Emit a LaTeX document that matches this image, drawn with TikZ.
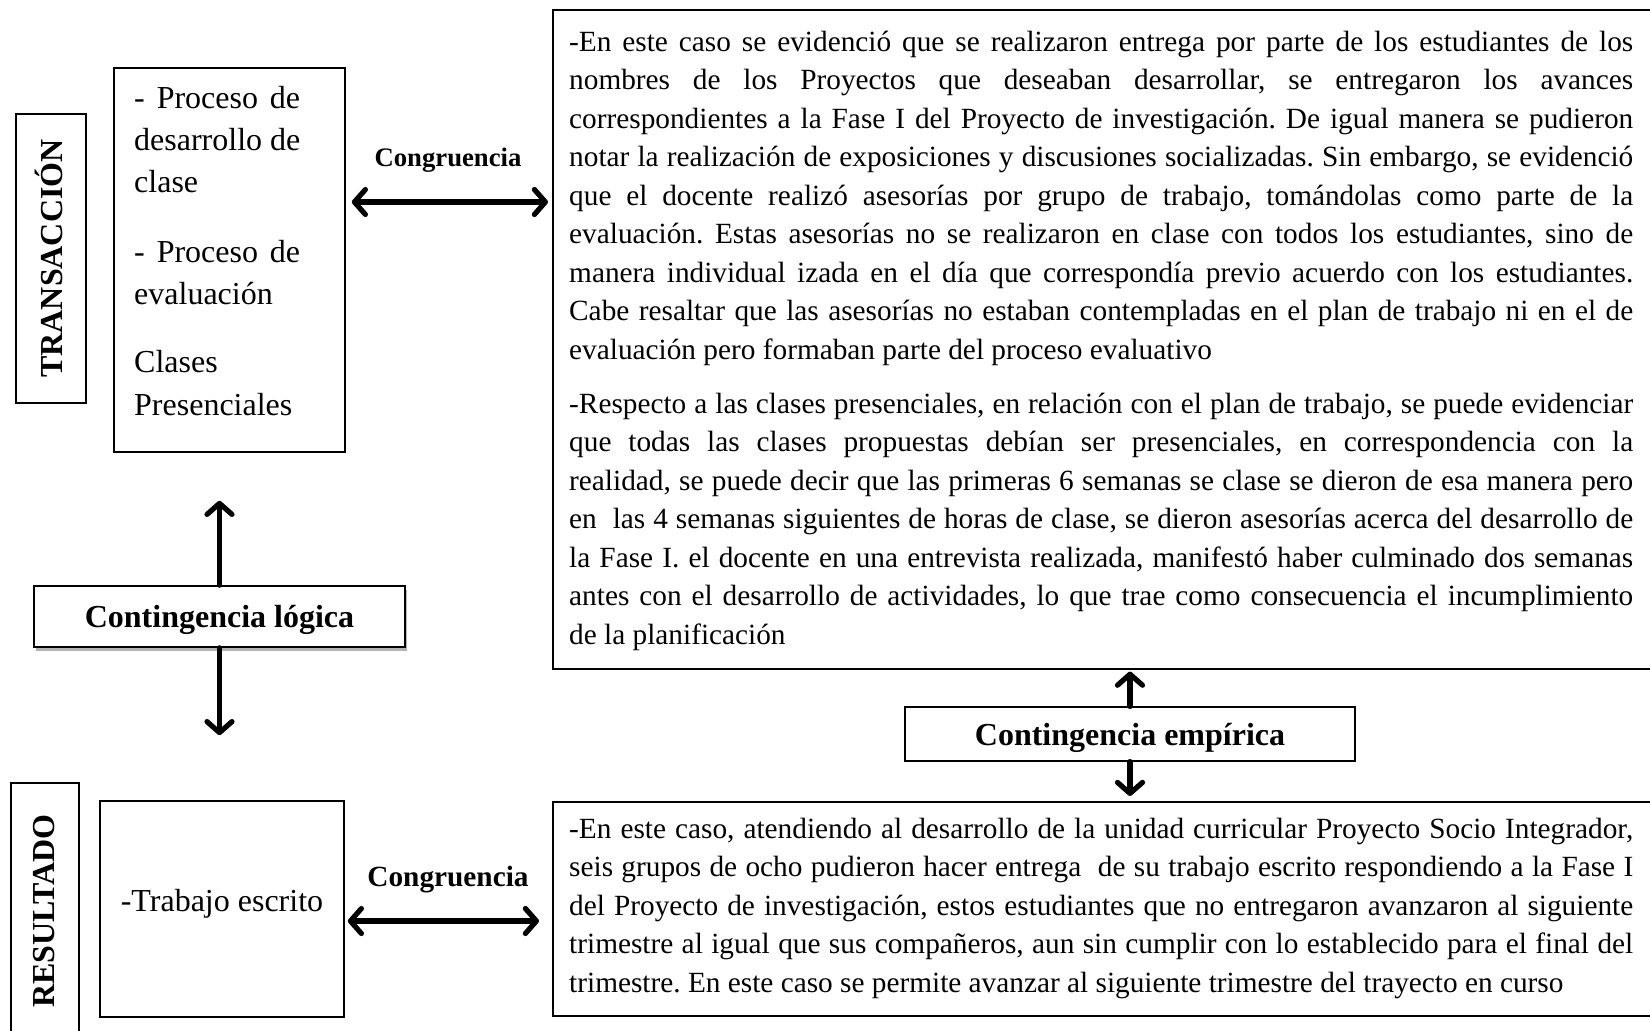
\documentclass[tikz,border=0pt]{standalone}
\usepackage{fontspec}
\setmainfont{Liberation Serif}
\usetikzlibrary{arrows.meta,shadows}
\setlength{\parindent}{0pt}
\frenchspacing
\tikzset{mybarb/.tip={Straight Barb[length=11pt,width=25pt,round]}}
\begin{document}
\frenchspacing
\begin{tikzpicture}[x=1pt,y=-1pt,
  box/.style={draw, line width=1.6pt, inner sep=0pt, fill=white},
  bigtxt/.style={anchor=north west, inner sep=0pt, text width=1064pt, align=justify, font=\fontsize{29.3}{38.5}\selectfont\frenchspacing},
  lefttxt/.style={anchor=north west, inner sep=0pt, text width=166pt, align=justify, font=\fontsize{32}{42.3}\selectfont},
  vlabel/.style={rotate=90, inner sep=0pt, font=\fontsize{32}{36}\selectfont\bfseries},
  dbl/.style={line width=5.2pt, line cap=round, {mybarb}-{mybarb}},
  single/.style={line width=5.2pt, line cap=round, -{mybarb}},
]
\useasboundingbox (0,0) rectangle (1650,1031);
\clip (0,0) rectangle (1650,1031);

% left column
\node[box, minimum width=70pt, minimum height=289pt] (trans) at (51,258.5) {};
\node[vlabel] (transt) at ([xshift=-2pt]trans.center) {TRANSACCIÓN};

\node[box, minimum width=231pt, minimum height=384pt] (proc) at (229.5,260) {};
\node[lefttxt] (proct) at (134,78.5) {\strut - Proceso de\linebreak desarrollo de\linebreak clase\par\vspace{27pt}- Proceso de\linebreak evaluación\par\vspace{26pt}Clases\\Presenciales};

\node[box, minimum width=371pt, minimum height=61pt, text depth=0pt, drop shadow={shadow xshift=2pt, shadow yshift=-4pt, fill=gray!60, opacity=1},
  font=\fontsize{32}{36}\selectfont\bfseries] (logica) at (219.5,616.5) {Contingencia lógica};

\node[box, minimum width=68pt, minimum height=260pt] (res) at (45,913) {};
\node[vlabel] (rest) at (44,911) {RESULTADO};

\node[box, minimum width=244pt, minimum height=216pt] (trab) at (222,909) {};
\node[font=\fontsize{32}{36}\selectfont] (trabt) at ([yshift=5pt]trab.center) {-Trabajo escrito};

% right column
\node[box, minimum width=1120pt, minimum height=659pt, anchor=north west] (topbox) at (552,9) {};
\node[bigtxt] (topt) at (569,24) {\strut -En este caso se evidenció que se realizaron entrega por parte de los estudiantes de los\linebreak
nombres de los Proyectos que deseaban desarrollar, se entregaron los avances\linebreak
correspondientes a la Fase I del Proyecto de investigación. De igual manera se pudieron\linebreak
notar la realización de exposiciones y discusiones socializadas. Sin embargo, se evidenció\linebreak
que el docente realizó asesorías por grupo de trabajo, tomándolas como parte de la\linebreak
evaluación. Estas asesorías no se realizaron en clase con todos los estudiantes, sino de\linebreak
manera individual izada en el día que correspondía previo acuerdo con los estudiantes.\linebreak
Cabe resaltar que las asesorías no estaban contempladas en el plan de trabajo ni en el de\linebreak
evaluación pero formaban parte del proceso evaluativo\par\vspace{15.5pt}%
-Respecto a las clases presenciales, en relación con el plan de trabajo, se puede evidenciar\linebreak
que todas las clases propuestas debían ser presenciales, en correspondencia con la\linebreak
realidad, se puede decir que las primeras 6 semanas se clase se dieron de esa manera pero\linebreak
en\ \ las 4 semanas siguientes de horas de clase, se dieron asesorías acerca del desarrollo de\linebreak
la Fase I. el docente en una entrevista realizada, manifestó haber culminado dos semanas\linebreak
antes con el desarrollo de actividades, lo que trae como consecuencia el incumplimiento\linebreak
de la planificación};

\node[box, line width=1.2pt, text depth=0pt, font=\fontsize{32}{36}\selectfont\bfseries, minimum width=450pt, minimum height=54pt] (emp) at (1130,734) {Contingencia empírica};

\node[box, minimum width=1120pt, minimum height=214pt, anchor=north west] (botbox) at (552,801) {};
\node[bigtxt] (bott) at (569,811) {\strut -En este caso, atendiendo al desarrollo de la unidad curricular Proyecto Socio Integrador,\linebreak
seis grupos de ocho pudieron hacer entrega\ \ de su trabajo escrito respondiendo a la Fase I\linebreak
del Proyecto de investigación, estos estudiantes que no entregaron avanzaron al siguiente\linebreak
trimestre al igual que sus compañeros, aun sin cumplir con lo establecido para el final del\linebreak
trimestre. En este caso se permite avanzar al siguiente trimestre del trayecto en curso};

% labels
\node[font=\fontsize{26.7}{30}\selectfont\bfseries] (cong1) at (448,160) {Congruencia};
\node[font=\fontsize{29.3}{33}\selectfont\bfseries] (cong2) at (448,880) {Congruencia};

% connectors
\coordinate (y1) at (0,202);
\coordinate (y2) at (0,921);
\draw[dbl, shorten <=6pt, shorten >=4pt] (proc.east |- y1) -- (topbox.west |- y1);
\draw[dbl, shorten <=3pt, shorten >=13pt] (trab.east |- y2) -- (botbox.west |- y2);
\draw[single, shorten >=48pt] (logica.north) -- (logica.north |- proc.south);
\draw[single, shorten >=65pt] (logica.south) -- (logica.south |- trab.north);
\draw[single, shorten >=2pt] (emp.north) -- (emp.north |- topbox.south);
\draw[single, shorten >=5pt] (emp.south) -- (emp.south |- botbox.north);
\end{tikzpicture}
\end{document}
